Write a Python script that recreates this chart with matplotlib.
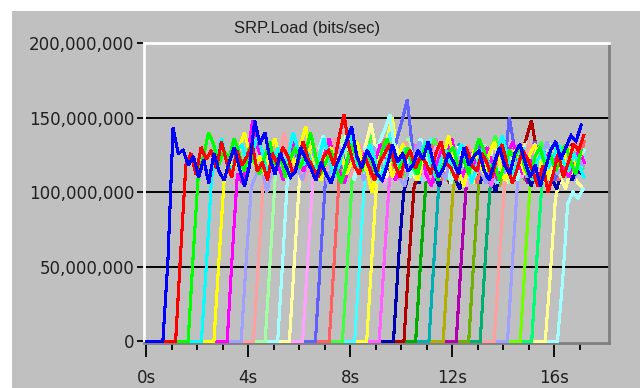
import matplotlib
matplotlib.use("Agg")
import matplotlib.pyplot as plt
import matplotlib.patches as mpatches
import numpy as np

# SRP.Load (bits/sec), one trace per flow, values in Mbit/s sampled every 0.2 s
# each flow: time where its ramp begins, then the hand-read values
ramp_start = [0.66, 1.16, 1.65, 2.17, 2.66, 3.18, 3.73, 4.21, 4.67, 5.16, 5.62,
              6.14, 6.64, 7.18, 7.70, 8.18, 8.65, 9.14, 9.70, 10.11, 10.57,
              11.09, 11.65, 12.16, 12.65, 13.10, 13.65, 14.17, 14.67, 15.12,
              15.65, 16.13]
step = 0.2
end_time = 17.25

colors = ["#0000ff", "#ff0000", "#00ff00", "#00ffff", "#ffff00", "#ff00ff",
          "#a0a0ff", "#ffa0a0", "#a0ffa0", "#a0ffff", "#ffffa0", "#ffa0ff",
          "#6060ff", "#ff6060", "#40ff40", "#40ffff", "#ffff40", "#ff60ff",
          "#0000b0", "#b00000", "#00b000", "#00b0b0", "#b0b000", "#b000b0",
          "#70b000", "#00b070", "#ffa0a0", "#a0a0ff", "#70ff00", "#00ff70",
          "#ffff90", "#a0ffff"]

loads = [
    [0, 55, 143, 126, 128, 118, 124, 110, 122, 106, 126, 114, 108, 120, 130, 116, 104, 118, 148, 132,
     140, 122, 112, 126, 118, 110, 114, 130, 122, 116, 108, 120, 112, 106, 118, 126, 134, 144, 124, 116,
     128, 122, 112, 108, 118, 132, 120, 126, 114, 118, 128, 122, 134, 120, 110, 116, 126, 120, 112, 130,
     118, 124, 128, 114, 108, 120, 130, 118, 112, 126, 132, 120, 110, 118, 104, 116, 128, 134, 122, 130,
     138, 134, 145],
    [0, 60, 118, 126, 112, 130, 122, 128, 116, 134, 120, 110, 128, 118, 124, 132, 114, 120, 108, 126,
     118, 130, 124, 112, 120, 134, 122, 116, 110, 124, 128, 118, 136, 152, 130, 118, 112, 124, 116, 108,
     120, 126, 132, 118, 110, 122, 128, 116, 124, 120, 112, 126, 134, 120, 116, 108, 122, 130, 118, 114,
     126, 120, 110, 124, 132, 118, 106, 116, 128, 122, 114, 104, 118, 100, 112, 126, 110, 120, 132, 128,
     138],
    [0, 58, 112, 124, 140, 132, 118, 128, 122, 136, 126, 114, 130, 120, 112, 124, 134, 118, 126, 110,
     122, 130, 116, 126, 140, 124, 112, 120, 128, 116, 106, 118, 132, 124, 114, 126, 120, 110, 128, 136,
     122, 114, 120, 130, 118, 112, 126, 134, 120, 108, 118, 126, 130, 116, 122, 112, 124, 136, 128, 114,
     120, 108, 118, 128, 122, 132, 116, 110, 124, 130, 118, 126, 114, 122, 132, 120, 112, 128],
    [0, 52, 110, 126, 136, 120, 114, 128, 132, 118, 124, 138, 126, 112, 120, 130, 116, 124, 140, 128,
     118, 126, 114, 122, 136, 124, 110, 118, 130, 142, 126, 114, 120, 132, 122, 108, 118, 128, 124, 116,
     130, 120, 112, 126, 134, 118, 110, 122, 128, 116, 124, 132, 120, 106, 118, 128, 122, 114, 126, 138,
     124, 112, 120, 130, 118, 108, 122, 128, 116, 124, 132, 120, 114, 126, 118, 110],
    [0, 55, 108, 122, 116, 130, 140, 126, 118, 124, 112, 128, 136, 120, 114, 126, 118, 132, 144, 124,
     116, 108, 122, 130, 118, 126, 112, 120, 134, 122, 114, 100, 118, 128, 124, 110, 120, 132, 126, 116,
     108, 122, 130, 118, 112, 126, 138, 124, 114, 104, 118, 128, 120, 112, 126, 134, 120, 108, 116, 128,
     122, 112, 126, 132, 118, 106, 120, 128, 116, 124, 130, 118, 126],
    [0, 58, 112, 106, 124, 148, 130, 120, 112, 126, 118, 108, 122, 134, 120, 114, 128, 118, 110, 124,
     136, 122, 114, 106, 120, 128, 118, 126, 112, 120, 132, 124, 114, 108, 122, 130, 120, 116, 126, 112,
     104, 118, 128, 122, 136, 120, 110, 118, 126, 114, 122, 130, 118, 108, 116, 126, 134, 120, 112, 124,
     118, 106, 114, 126, 120, 130, 116, 110, 122, 128, 120],
    [0, 55, 104, 112, 118, 100, 114, 126, 110, 122, 130, 116, 108, 120, 128, 112, 118, 106, 124, 132,
     118, 112, 126, 120, 108, 116, 130, 124, 114, 120, 128, 110, 104, 118, 126, 134, 120, 112, 122, 116,
     108, 124, 130, 118, 112, 126, 120, 114, 106, 118, 128, 122, 112, 120, 132, 118, 110, 124, 116, 126,
     134, 120, 112, 118, 126, 114, 122, 118],
    [0, 55, 110, 124, 130, 118, 140, 126, 114, 122, 108, 118, 130, 124, 112, 120, 136, 126, 116, 110,
     122, 132, 118, 126, 114, 120, 128, 116, 108, 124, 134, 120, 112, 126, 118, 106, 122, 130, 116, 124,
     112, 120, 132, 124, 114, 118, 128, 110, 122, 130, 118, 112, 126, 120, 134, 122, 114, 108, 120, 128,
     124, 116, 126, 132, 122],
    [0, 55, 112, 120, 108, 126, 134, 118, 112, 124, 130, 116, 122, 110, 126, 138, 124, 116, 120, 112,
     128, 122, 106, 118, 130, 124, 114, 120, 136, 122, 112, 118, 128, 116, 108, 124, 130, 120, 114, 126,
     118, 110, 122, 132, 120, 114, 126, 118, 106, 120, 130, 122, 114, 126, 118, 124, 132, 116, 110, 122,
     128, 120, 116],
    [0, 55, 114, 126, 118, 132, 122, 112, 128, 138, 120, 114, 126, 132, 118, 108, 122, 130, 116, 124,
     134, 142, 152, 128, 116, 122, 110, 126, 136, 124, 114, 120, 128, 118, 106, 122, 132, 120, 112, 126,
     118, 130, 124, 112, 120, 128, 116, 108, 122, 134, 126, 118, 112, 124, 130, 120, 114, 126, 118, 122,
     128],
    [0, 55, 110, 122, 134, 124, 116, 128, 120, 112, 126, 138, 124, 114, 120, 132, 146, 128, 118, 110,
     122, 130, 118, 126, 114, 108, 120, 134, 124, 116, 122, 112, 126, 130, 118, 110, 124, 128, 116, 120,
     132, 122, 114, 106, 118, 126, 120, 112, 124, 130, 118, 110, 122, 128, 116, 124, 120, 126],
    [0, 55, 108, 116, 128, 120, 112, 124, 134, 118, 110, 122, 130, 118, 126, 114, 106, 120, 132, 124,
     116, 112, 126, 120, 108, 118, 130, 124, 114, 122, 128, 116, 104, 118, 126, 120, 112, 130, 122, 114,
     120, 128, 118, 110, 124, 132, 120, 114, 126, 118, 112, 124, 130, 118, 122, 126],
    [0, 55, 110, 120, 128, 116, 124, 132, 120, 112, 126, 118, 110, 124, 130, 120, 136, 148, 162, 130,
     118, 124, 114, 106, 120, 128, 116, 122, 130, 118, 112, 124, 132, 120, 108, 118, 126, 114, 150, 130,
     120, 112, 124, 134, 122, 126, 116, 108, 120, 112, 118, 124, 116],
    [0, 55, 112, 128, 120, 116, 130, 124, 110, 118, 126, 136, 122, 114, 108, 120, 128, 118, 112, 124,
     132, 120, 108, 116, 126, 122, 114, 128, 118, 106, 120, 130, 124, 112, 118, 126, 116, 110, 122, 130,
     124, 114, 120, 128, 116, 108, 122, 130, 126, 120, 134],
    [0, 55, 114, 126, 118, 130, 140, 122, 112, 124, 134, 120, 110, 118, 128, 124, 114, 122, 136, 126,
     116, 108, 120, 130, 118, 112, 126, 122, 114, 128, 138, 124, 116, 110, 122, 130, 118, 112, 126, 134,
     120, 114, 122, 130, 124, 116, 126, 120],
    [0, 55, 112, 120, 132, 118, 126, 140, 124, 114, 122, 130, 116, 108, 124, 136, 120, 112, 126, 118,
     110, 122, 132, 124, 114, 120, 128, 118, 106, 122, 130, 120, 112, 126, 134, 120, 114, 122, 118, 128,
     124, 112, 120, 130, 116, 126],
    [0, 55, 110, 124, 136, 150, 126, 114, 122, 130, 118, 108, 120, 128, 116, 124, 134, 120, 112, 126,
     118, 106, 122, 130, 124, 114, 120, 128, 116, 110, 124, 132, 120, 114, 126, 118, 108, 122, 130, 118,
     112, 124, 128],
    [0, 55, 108, 118, 126, 114, 122, 132, 120, 110, 124, 136, 128, 116, 108, 120, 130, 118, 112, 126,
     120, 114, 104, 118, 128, 122, 112, 124, 132, 116, 110, 122, 128, 118, 112, 126, 120, 114, 124, 130,
     118],
    [0, 55, 100, 112, 120, 106, 118, 126, 112, 104, 116, 124, 110, 102, 118, 128, 114, 106, 120, 112,
     100, 114, 124, 118, 108, 120, 112, 104, 116, 126, 118, 110, 102, 114, 120, 108, 116, 112],
    [0, 55, 104, 112, 120, 108, 116, 126, 114, 106, 118, 128, 116, 110, 122, 132, 120, 112, 124, 118,
     108, 120, 130, 124, 136, 148, 128, 118, 124, 130, 120, 114, 126, 132, 120, 128],
    [0, 55, 106, 118, 112, 124, 116, 108, 120, 130, 118, 112, 124, 114, 106, 118, 126, 120, 110, 116,
     124, 130, 118, 112, 122, 128, 116, 110, 120, 126, 118, 124, 114, 120],
    [0, 55, 108, 120, 114, 126, 132, 118, 110, 122, 128, 116, 108, 120, 126, 114, 122, 130, 118, 112,
     124, 118, 106, 116, 126, 120, 112, 122, 128, 118, 124],
    [0, 55, 104, 116, 110, 122, 114, 106, 118, 126, 112, 104, 116, 124, 118, 110, 120, 128, 116, 108,
     118, 124, 112, 120, 126, 116, 122, 118],
    [0, 55, 106, 118, 112, 124, 116, 108, 122, 130, 118, 110, 124, 116, 106, 120, 128, 114, 110, 122,
     118, 112, 126, 120, 114, 120],
    [0, 55, 108, 120, 114, 126, 118, 110, 122, 130, 116, 108, 120, 126, 114, 122, 132, 118, 110, 124,
     120, 116, 126],
    [0, 55, 106, 118, 124, 112, 120, 128, 116, 108, 122, 130, 118, 112, 124, 116, 110, 122, 126, 118,
     124],
    [0, 55, 104, 116, 124, 112, 120, 130, 118, 110, 124, 132, 120, 114, 126, 118, 134, 128],
    [0, 55, 108, 120, 112, 126, 118, 110, 104, 116, 124, 112, 120, 108, 116, 110],
    [0, 55, 108, 122, 114, 126, 118, 130, 120, 112, 124, 116, 122],
    [0, 55, 106, 118, 126, 114, 122, 110, 118, 124, 116],
    [0, 45, 96, 110, 102, 116, 108, 104],
    [0, 40, 92, 100, 96, 102],
]

fig = plt.figure(figsize=(6.4, 3.88), dpi=100)
fig.patch.set_facecolor("#c0c0c0")
# white margins of the screenshot (top strip and left strip)
fig.add_artist(mpatches.Rectangle((0, 1 - 11 / 388), 1, 11 / 388, transform=fig.transFigure,
                                  facecolor="white", edgecolor="none"))
fig.add_artist(mpatches.Rectangle((0, 0), 12 / 640, 1, transform=fig.transFigure,
                                  facecolor="white", edgecolor="none"))

ax = fig.add_axes([144 / 640, 45 / 388, 465 / 640, 300 / 388])
ax.set_facecolor("#c0c0c0")

n = len(loads)
for i in range(n):
    t = ramp_start[i] + step * np.arange(len(loads[i]))
    v = np.array(loads[i], dtype=float) * 1e6
    # flat zero line from when the previous flow started
    t0 = 0.0 if i == 0 else ramp_start[i - 1]
    t = np.concatenate([[t0], t])
    v = np.concatenate([[0.0], v])
    keep = t <= end_time
    ax.plot(t[keep], v[keep], color=colors[i], lw=1.5, zorder=100 - i,
            antialiased=False, solid_joinstyle="miter")

ax.set_xlim(-0.08, 18.15)
ax.set_ylim(-1.2e6, 200e6)

for y in [50e6, 100e6, 150e6]:
    ax.axhline(y, color="black", lw=1.4, zorder=1)

ax.set_yticks([0, 50e6, 100e6, 150e6, 200e6])
ax.set_yticklabels(["0", "50,000,000", "100,000,000", "150,000,000", "200,000,000"])
ax.set_xticks([0, 4, 8, 12, 16])
ax.set_xticklabels(["0s", "4s", "8s", "12s", "16s"])
ax.set_xticks(np.arange(0, 18, 1), minor=True)
ax.tick_params(axis="x", which="major", length=10, width=1.3, color="black",
               labelsize=12, labelcolor="#202020", pad=9)
ax.tick_params(axis="x", which="minor", length=5, width=1.3, color="black")
ax.tick_params(axis="y", which="major", length=5, width=1.3, color="black",
               labelsize=12, labelcolor="#202020", pad=2)

ax.spines["left"].set_color("white")
ax.spines["top"].set_color("white")
ax.spines["right"].set_color("#808080")
ax.spines["bottom"].set_color("#808080")
for s in ax.spines.values():
    s.set_linewidth(2)

fig.text(307 / 640, 1 - 28 / 388, "SRP.Load (bits/sec)", ha="center", va="center",
         fontsize=12, family="Liberation Sans", color="#202020")

fig.savefig("out.png", dpi=100, facecolor=fig.get_facecolor())
